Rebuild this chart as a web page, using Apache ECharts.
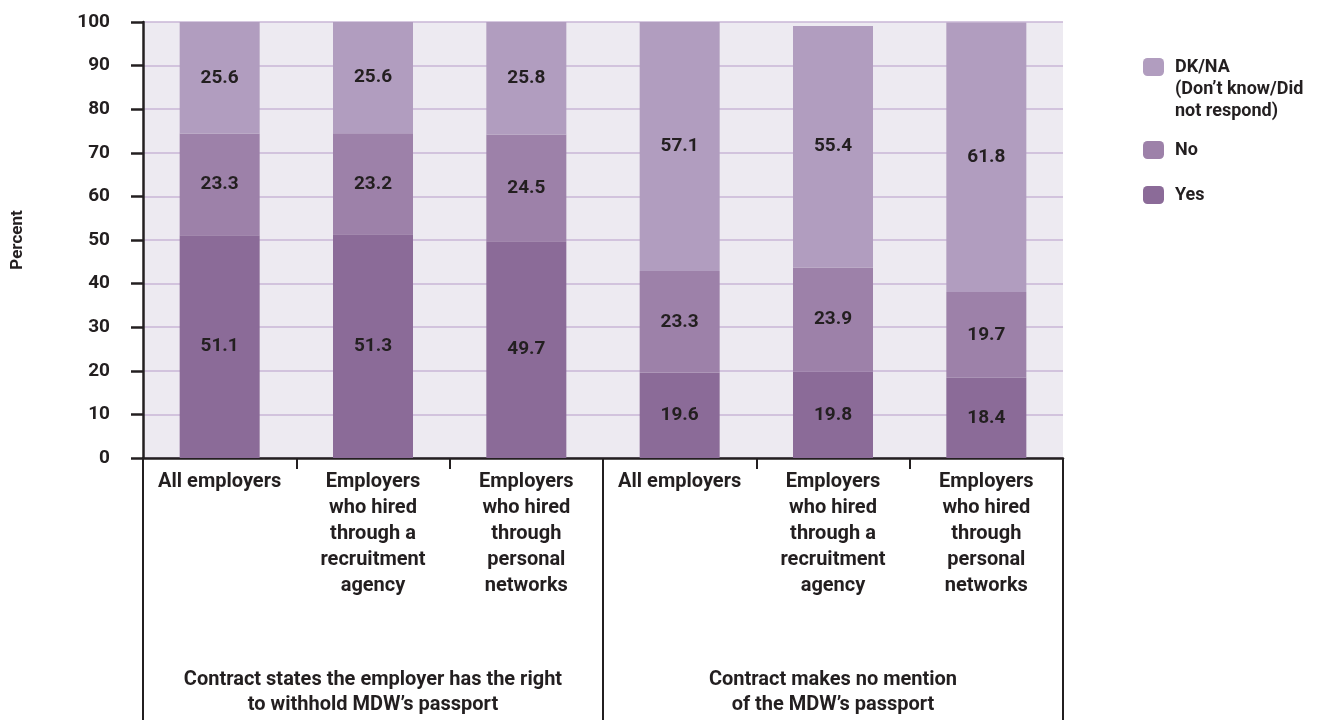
<!DOCTYPE html>
<html><head><meta charset="utf-8">
<script src="https://cdn.jsdelivr.net/npm/echarts@6/dist/echarts.min.js"></script>
<style>html,body{margin:0;padding:0;background:#fff}#c{width:1335px;height:720px}</style>
</head><body><div id="c"></div>
<script>
const categories = ['All employers','Employers\nwho hired\nthrough a\nrecruitment\nagency','Employers\nwho hired\nthrough\npersonal\nnetworks','All employers','Employers\nwho hired\nthrough a\nrecruitment\nagency','Employers\nwho hired\nthrough\npersonal\nnetworks'];
const groups = ['Contract states the employer has the right\nto withhold MDW’s passport','Contract makes no mention\nof the MDW’s passport'];
const yesVals = [51.1, 51.3, 49.7, 19.6, 19.8, 18.4];
const noVals = [23.3, 23.2, 24.5, 23.3, 23.9, 19.7];
const dkVals = [25.6, 25.6, 25.8, 57.1, 55.4, 61.8];
const seriesNames = ['Yes','No','DK/NA'];
const legendLabels = {'DK/NA':['', '', 'DK/NA', '(Don’t know/Did', 'not respond)'],'No':['No'],'Yes':['Yes']};
const colors = ['#8B6B98','#9D81A9','#B19DBF'];
const ink = '#231F20';
const font = 'Roboto';

const chart = echarts.init(document.getElementById('c'));
const lbl = {show:true, position:'inside', color:ink, fontFamily:font, fontWeight:'bold', fontSize:19, formatter: p => p.value.toFixed(1)};
function mkSeries(name, data, color){
  return {name, type:'bar', stack:'s', data, barWidth:80, itemStyle:{color}, label:lbl, emphasis:{disabled:true}};
}
function mkLegend(name, top){
  return {show:true, data:[name], orient:'vertical', left:1143, top, itemWidth:21, itemHeight:18, itemGap:0, padding:0,
    formatter: n => legendLabels[n].map(s => '{t|' + (s || ' ') + '}').join('\n'),
    textStyle:{color:ink, fontFamily:font, fontWeight:'bold', fontSize:18, lineHeight:22,
      rich:{t:{color:ink, fontFamily:font, fontWeight:'bold', fontSize:18, lineHeight:22, padding:[0,0,0,6]}}},
    selectedMode:false};
}
chart.setOption({
  animation:false,
  color:colors,
  grid:{left:143, right:272, top:22, bottom:262, show:true, backgroundColor:'#EDEAF1', borderWidth:0},
  legend:[mkLegend('DK/NA', 12), mkLegend('No', 139), mkLegend('Yes', 184)],
  xAxis:[
    {type:'category', data:categories, position:'bottom',
     axisLine:{show:true, lineStyle:{color:ink, width:2.5}},
     axisTick:{show:true, length:11, lineStyle:{color:ink, width:2}},
     axisLabel:{interval:0, margin:11, color:ink, fontFamily:font, fontWeight:'bold', fontSize:20, lineHeight:26, verticalAlign:'top'}},
    {type:'category', data:groups, position:'bottom',
     axisLine:{show:false},
     axisTick:{show:true, length:270, lineStyle:{color:ink, width:2}},
     axisLabel:{interval:0, margin:209, color:ink, fontFamily:font, fontWeight:'bold', fontSize:20, lineHeight:25, verticalAlign:'top'}}
  ],
  yAxis:{type:'value', min:0, max:100, interval:10, name:'Percent', nameLocation:'middle', nameGap:117, nameRotate:90,
    nameTextStyle:{color:ink, fontFamily:font, fontWeight:'bold', fontSize:17},
    axisLine:{show:true, lineStyle:{color:ink, width:2.5}},
    axisTick:{show:true, length:12, lineStyle:{color:ink, width:2.5}},
    axisLabel:{margin:33, color:ink, fontFamily:font, fontWeight:'bold', fontSize:19},
    splitLine:{show:true, lineStyle:{color:'#C8B6D6', width:1.5}}},
  series:[mkSeries(seriesNames[0], yesVals, colors[0]), mkSeries(seriesNames[1], noVals, colors[1]), mkSeries(seriesNames[2], dkVals, colors[2])]
});
</script></body></html>
